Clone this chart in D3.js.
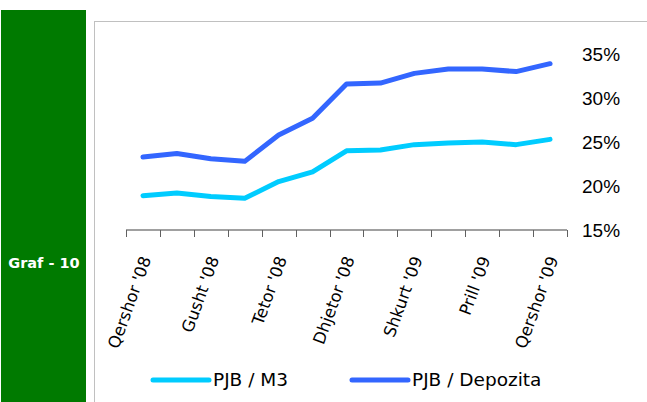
<!DOCTYPE html>
<html>
<head>
<meta charset="utf-8">
<script src="https://cdn.jsdelivr.net/npm/d3@7"></script>
<style>
  body { margin: 0; background: #fff; }
  svg { display: block; }
</style>
</head>
<body>
<div id="chart"></div>
<script>
// months, Jun 2008 - Jun 2009
const months = ["Qershor '08", "Korrik '08", "Gusht '08", "Shtator '08", "Tetor '08", "Nentor '08",
  "Dhjetor '08", "Janar '09", "Shkurt '09", "Mars '09", "Prill '09", "Maj '09", "Qershor '09"];
const pjbM3 = [18.9, 19.2, 18.8, 18.6, 20.5, 21.6, 24.0, 24.1, 24.7, 24.9, 25.0, 24.7, 25.3];
const pjbDepozita = [23.3, 23.7, 23.1, 22.8, 25.8, 27.7, 31.6, 31.7, 32.8, 33.3, 33.3, 33.0, 33.9];
const yTicks = [15, 20, 25, 30, 35];
const seriesNames = ["PJB / M3", "PJB / Depozita"];
const colors = ["#00ccff", "#3366ff"];

const width = 647, height = 402;

const svg = d3.select("#chart")
  .append("svg")
  .attr("width", width)
  .attr("height", height);

// green side panel
svg.append("rect")
  .attr("x", 1).attr("y", 10)
  .attr("width", 85).attr("height", 392)
  .attr("fill", "#007a00");

svg.append("text")
  .attr("x", 44).attr("y", 268)
  .attr("text-anchor", "middle")
  .attr("fill", "#fff")
  .attr("font-family", "DejaVu Sans, Verdana, sans-serif")
  .attr("font-weight", "bold")
  .attr("font-size", "14.5px")
  .text("Graf - 10");

// chart frame
svg.append("rect")
  .attr("x", 94.5).attr("y", 21.5)
  .attr("width", 600).attr("height", 420)
  .attr("fill", "none")
  .attr("stroke", "#c0c0c0");

const x = d3.scaleBand()
  .domain(months)
  .range([126, 567]);

const y = d3.scaleLinear()
  .domain([15, 35])
  .range([230, 54]);

// x axis
const xAxis = d3.axisBottom(x).tickSize(0).tickFormat("");
const xg = svg.append("g")
  .attr("transform", "translate(0,230)")
  .call(xAxis);
xg.select(".domain").remove();
xg.append("line")
  .attr("x1", 126).attr("x2", 567)
  .attr("stroke", "#808080").attr("stroke-width", 1.5);

// tick marks at band edges
const edges = months.map(m => x(m)).concat([x.range()[1]]);
xg.selectAll(".edge")
  .data(edges)
  .enter()
  .append("line")
  .attr("class", "edge")
  .attr("x1", d => Math.round(d) + 0.5)
  .attr("x2", d => Math.round(d) + 0.5)
  .attr("y1", 0).attr("y2", 7)
  .attr("stroke", "#606060");

// rotated labels, every second month
xg.selectAll(".lbl")
  .data(months.filter((m, i) => i % 2 === 0))
  .enter()
  .append("text")
  .attr("class", "lbl")
  .attr("transform", d => "translate(" + (x(d) + x.bandwidth() / 2 + 3) + ",27) rotate(-70)")
  .attr("text-anchor", "end")
  .attr("dy", "0.35em")
  .attr("fill", "#000")
  .attr("font-family", "DejaVu Sans, Verdana, sans-serif")
  .attr("font-size", "16.5px")
  .text(d => d);

// y labels on the right
svg.selectAll(".ylbl")
  .data(yTicks)
  .enter()
  .append("text")
  .attr("class", "ylbl")
  .attr("x", 582)
  .attr("y", d => y(d))
  .attr("dy", "0.36em")
  .attr("fill", "#000")
  .attr("font-family", "Liberation Sans, Arial, sans-serif")
  .attr("font-size", "19px")
  .text(d => d + "%");

const line = d3.line()
  .x((d, i) => x(months[i]) + x.bandwidth() / 2)
  .y(d => y(d));

[pjbM3, pjbDepozita].forEach((s, k) => {
  svg.append("path")
    .datum(s)
    .attr("d", line)
    .attr("fill", "none")
    .attr("stroke", colors[k])
    .attr("stroke-width", 5)
    .attr("stroke-linejoin", "round")
    .attr("stroke-linecap", "round");
});

// legend
const legX = [153, 352];
const leg = svg.selectAll(".leg")
  .data(seriesNames)
  .enter()
  .append("g")
  .attr("class", "leg")
  .attr("transform", (d, i) => "translate(" + legX[i] + ",380)");

leg.append("line")
  .attr("x1", 0).attr("x2", 56)
  .attr("stroke", (d, i) => colors[i])
  .attr("stroke-width", 5)
  .attr("stroke-linecap", "round");

leg.append("text")
  .attr("x", 60)
  .attr("dy", "0.35em")
  .attr("fill", "#000")
  .attr("font-family", "DejaVu Sans, Verdana, sans-serif")
  .attr("font-size", "18.5px")
  .text(d => d);
</script>
</body>
</html>
